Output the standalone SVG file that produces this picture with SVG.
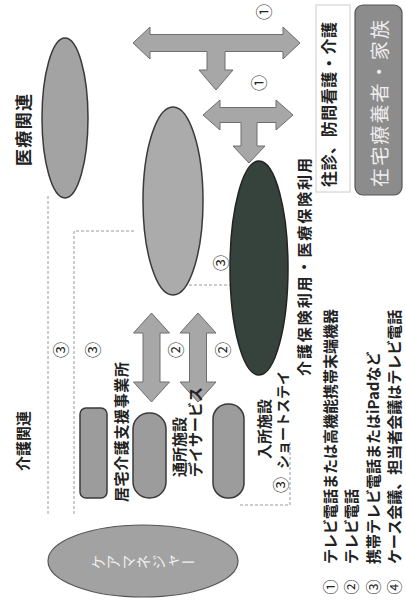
<svg xmlns="http://www.w3.org/2000/svg" width="406" height="601" viewBox="0 0 406 601">
<style>
.lbl{font-family:"Noto Sans CJK JP","Noto Sans",sans-serif;font-weight:700;fill:#222;}
.num{font-family:"Noto Sans CJK JP","DejaVu Sans",sans-serif;font-size:16px;fill:#222;}
.arrow{fill:#a7a7a7;stroke:#6e6e6e;stroke-width:1;}
.dash{fill:none;stroke:#9a9a9a;stroke-width:1;stroke-dasharray:3 2;}
.shape{stroke:#3a3a3a;stroke-width:1.5;}
.wt{font-family:"Noto Sans CJK JP",sans-serif;fill:#eeeeee;}
</style>
<rect width="406" height="601" fill="#ffffff"/>

<g id="connectors">
<path class="arrow" d="M133,43 L150,27 L150,34.5 L283,34.5 L283,27 L300,43 L283,59 L283,51.5 L225,51.5 L225,70 L233,70 L216,90 L199,70 L207,70 L207,51.5 L150,51.5 L150,59 Z"/>
<path class="arrow" d="M203,115 L220,100 L220,107.5 L276,107.5 L276,100 L293,115 L276,130 L276,122.5 L257,122.5 L257,146 L265,146 L249,163 L233,146 L241,146 L241,122.5 L220,122.5 L220,130 Z"/>
<path class="arrow" d="M151.5,313 L169.5,333 L160,333 L160,382 L169.5,382 L151.5,402 L133.5,382 L143,382 L143,333 L133.5,333 Z"/>
<path class="arrow" d="M198,313 L216,333 L206.5,333 L206.5,382 L216,382 L198,402 L180,382 L189.5,382 L189.5,333 L180,333 Z"/>
<path class="dash" d="M48,196 L48,515"/>
<path class="dash" d="M134,231 L74,231 L74,515"/>
<path class="dash" d="M189,285 L230,285"/>
<path class="dash" d="M240,505 L290,505 L290,440"/>
<g class="num">
<text transform="translate(263,12) rotate(-90)" text-anchor="middle" dominant-baseline="central">①</text>
<text transform="translate(258,83) rotate(-90)" text-anchor="middle" dominant-baseline="central">①</text>
<text transform="translate(175,350) rotate(-90)" text-anchor="middle" dominant-baseline="central">②</text>
<text transform="translate(222,350) rotate(-90)" text-anchor="middle" dominant-baseline="central">②</text>
<text transform="translate(60,350) rotate(-90)" text-anchor="middle" dominant-baseline="central">③</text>
<text transform="translate(92,350) rotate(-90)" text-anchor="middle" dominant-baseline="central">③</text>
<text transform="translate(220,263) rotate(-90)" text-anchor="middle" dominant-baseline="central">③</text>
<text transform="translate(280,485) rotate(-90)" text-anchor="middle" dominant-baseline="central">③</text>
</g>
</g>

<g id="iryo-label"><text class="lbl" font-size="17" transform="translate(22,166) rotate(-90)" dominant-baseline="central" textLength="72">医療関連</text></g>
<g id="iryo"><ellipse class="shape" cx="65" cy="118" rx="23" ry="80" fill="#a3a3a3"/></g>
<g id="middle"><ellipse class="shape" cx="173" cy="201" rx="30" ry="94" fill="#ababab"/></g>
<g id="dark"><ellipse cx="259" cy="268" rx="29" ry="107" fill="#36433d" stroke="#222" stroke-width="1.5"/></g>
<g id="hoken-label"><text class="lbl" font-size="15" font-weight="400" transform="translate(303,376) rotate(-90)" dominant-baseline="central" textLength="218">介護保険利用・医療保険利用</text></g>

<g id="ohshin">
<rect x="316" y="5" width="34" height="187" fill="none" stroke="#cccccc" stroke-width="1"/>
<text class="lbl" font-size="16" transform="translate(328,187) rotate(-90)" dominant-baseline="central" textLength="165">往診、防問看護・介護</text>
</g>
<g id="zaitaku">
<rect x="355" y="5" width="47" height="190" rx="8" fill="#8c8c8c" stroke="#555" stroke-width="1.2"/>
<text class="wt" font-size="19" transform="translate(378,187) rotate(-90)" dominant-baseline="central" textLength="167">在宅療養者・家族</text>
</g>

<g id="kaigo-label"><text class="lbl" font-size="15" transform="translate(22,471) rotate(-90)" dominant-baseline="central">介護関連</text></g>
<g id="kyotaku">
<rect class="shape" x="80" y="408" width="27" height="90" rx="6" fill="#9c9c9c"/>
<text class="lbl" font-size="15" transform="translate(120,502) rotate(-90)" dominant-baseline="central" textLength="140">居宅介護支援事業所</text>
</g>
<g id="tsusho">
<rect class="shape" x="133" y="413" width="33" height="85" rx="16" fill="#9c9c9c"/>
<text class="lbl" font-size="15" transform="translate(178,477) rotate(-90)" dominant-baseline="central">通所施設</text>
<text class="lbl" font-size="15" transform="translate(194,477) rotate(-90)" dominant-baseline="central">デイサービス</text>
</g>
<g id="nyusho">
<rect class="shape" x="213" y="404" width="31" height="94" rx="15" fill="#9c9c9c"/>
<text class="lbl" font-size="15" transform="translate(263,459) rotate(-90)" dominant-baseline="central">入所施設</text>
<text class="lbl" font-size="14" font-weight="400" transform="translate(282,469) rotate(-90)" dominant-baseline="central">ショートステイ</text>
</g>
<g id="caremanager">
<ellipse cx="143" cy="561" rx="95" ry="36" fill="#a2a2a2" stroke="#555" stroke-width="1.2"/>
<text class="wt" font-size="15" x="0" y="0" style="writing-mode:vertical-rl" text-anchor="middle" transform="translate(143,562) rotate(-90)">ケアマネジャー</text>
</g>

<g id="legend">
<g class="num" style="font-size:15px"><text transform="translate(329,587) rotate(-90)" text-anchor="middle" dominant-baseline="central">①</text>
<text transform="translate(350,587) rotate(-90)" text-anchor="middle" dominant-baseline="central">②</text>
<text transform="translate(372,587) rotate(-90)" text-anchor="middle" dominant-baseline="central">③</text>
<text transform="translate(393,587) rotate(-90)" text-anchor="middle" dominant-baseline="central">④</text></g>
<text class="lbl" font-size="15" font-weight="500" transform="translate(329,564) rotate(-90)" dominant-baseline="central">テレビ電話または高機能携帯末端機器</text>
<text class="lbl" font-size="15" font-weight="500" transform="translate(350,564) rotate(-90)" dominant-baseline="central">テレビ電話</text>
<text class="lbl" font-size="15" font-weight="500" transform="translate(372,564) rotate(-90)" dominant-baseline="central">携帯テレビ電話またはiPadなど</text>
<text class="lbl" font-size="15" font-weight="500" transform="translate(393,564) rotate(-90)" dominant-baseline="central">ケース会議、担当者会議はテレビ電話</text>
</g>
</svg>
